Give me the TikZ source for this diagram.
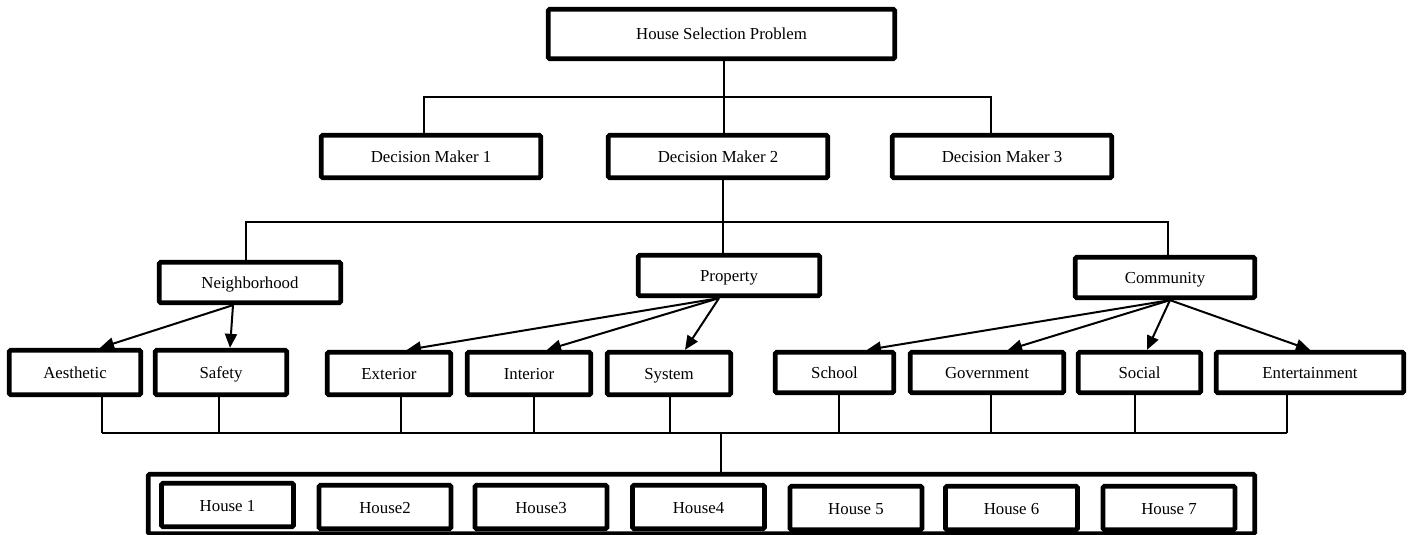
\documentclass[tikz,border=0pt]{standalone}
\usepackage{fontspec}
\setmainfont{Liberation Serif}
\usetikzlibrary{arrows.meta}

\tikzset{
  box/.style={draw, line width=4.8pt, rounded corners=1.5pt, inner sep=0pt, text height=13pt, text depth=1pt},
  dm/.style={box, minimum width=219.5pt, minimum height=42.5pt},
  crit/.style={box, minimum width=181.5pt, minimum height=40.5pt},
  sub/.style={box, minimum height=42.5pt},
  house/.style={box, minimum width=132pt, minimum height=43.5pt},
  link/.style={line width=1.5pt},
  arr/.style={line width=2pt, -{Triangle[length=14pt,width=12pt]}}
}

\begin{document}
\begin{tikzpicture}[x=1pt, y=-1pt, font=\fontsize{16.8}{19}\selectfont]
    \useasboundingbox (0,0) rectangle (1413,535);

    % Goal
    \node[box, minimum width=346.5pt, minimum height=49.5pt] (goal) at (721.5,34) {House Selection Problem};

    % Decision makers
    \node[dm] (dm1) at (431,156.5) {Decision Maker 1};
    \node[dm] (dm2) at (718,156.5) {Decision Maker 2};
    \node[dm] (dm3) at (1002,156.5) {Decision Maker 3};

    \coordinate (j1) at (724,97);
    \draw[link] (goal.south -| j1) -- (dm2.north -| j1);
    \draw[link] ([xshift=-7pt]dm1.north) |- (j1) -| ([xshift=-11pt]dm3.north);

    % Criteria
    \node[crit] (neigh) at (250,282.5) {Neighborhood};
    \node[crit] (prop) at (729,275.5) {Property};
    \node[crit, minimum width=179.5pt] (comm) at (1165,277.5) {Community};

    \coordinate (j2) at (723,222);
    \draw[link] (dm2.south -| j2) -- (prop.north -| j2);
    \draw[link] ([xshift=-4pt]neigh.north) |- (j2) -| ([xshift=3pt]comm.north);

    % Sub-criteria
    \node[sub, minimum width=131.5pt, minimum height=44.5pt] (aes) at (75,372.5) {Aesthetic};
    \node[sub, minimum width=131.5pt, minimum height=44.5pt] (saf) at (221,372.5) {Safety};
    \node[sub, minimum width=123.5pt] (ext) at (389,373.5) {Exterior};
    \node[sub, minimum width=123.5pt] (int) at (529,373.5) {Interior};
    \node[sub, minimum width=123.5pt] (sys) at (669,373.5) {System};
    \node[sub, minimum width=118.5pt, minimum height=40.5pt] (sch) at (834.5,372.5) {School};
    \node[sub, minimum width=153.5pt, minimum height=40.5pt] (gov) at (987,372.5) {Government};
    \node[sub, minimum width=122.5pt, minimum height=40.5pt] (soc) at (1139.5,372.5) {Social};
    \node[sub, minimum width=187.5pt, minimum height=40.5pt] (ent) at (1310,372.5) {Entertainment};

    \foreach \n/\dx in {aes/25, saf/9}
        \draw[arr] ([xshift=-17pt]neigh.south) -- ([xshift=\dx pt]\n.north);
    \foreach \n/\dx in {ext/18, int/18, sys/16}
        \draw[arr] ([xshift=-10pt]prop.south) -- ([xshift=\dx pt]\n.north);
    \foreach \n/\dx in {sch/32.5, gov/21, soc/7.5, ent/0}
        \draw[arr] ([xshift=5pt]comm.south) -- ([xshift=\dx pt]\n.north);

    % Alternatives
    \node[box, minimum width=1106.5pt, minimum height=59.5pt] (alts) at (701.5,504) {};
    \node[house] (h1) at (227.5,505) {House 1};
    \node[house] (h2) at (385,507) {House2};
    \node[house] (h3) at (541,507) {House3};
    \node[house] (h4) at (698.5,507) {House4};
    \node[house] (h5) at (856,508) {House 5};
    \node[house] (h6) at (1011.5,508) {House 6};
    \node[house] (h7) at (1169,508) {House 7};

    \coordinate (bus) at (721,433);
    \foreach \n/\dx in {aes/27, saf/-2, ext/12, int/5, sys/1, sch/4.5, gov/4, soc/-4.5, ent/-23}
        \draw[link] ([xshift=\dx pt]\n.south) -- ([xshift=\dx pt]\n.south |- bus);
    \draw[link] ([xshift=27pt]aes.south |- bus) -- ([xshift=-23pt]ent.south |- bus);
    \draw[link] (bus) -- (bus |- alts.north);
\end{tikzpicture}
\end{document}
